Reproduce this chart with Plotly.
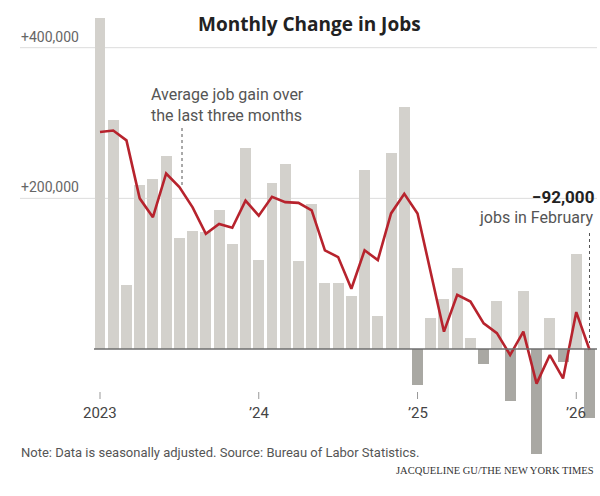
import plotly.graph_objects as go

months = ["2023-01","2023-02","2023-03","2023-04","2023-05","2023-06","2023-07","2023-08","2023-09","2023-10","2023-11","2023-12",
          "2024-01","2024-02","2024-03","2024-04","2024-05","2024-06","2024-07","2024-08","2024-09","2024-10","2024-11","2024-12",
          "2025-01","2025-02","2025-03","2025-04","2025-05","2025-06","2025-07","2025-08","2025-09","2025-10","2025-11","2025-12",
          "2026-01","2026-02"]
job_change = [440000, 304000, 85000, 218000, 226000, 256000, 147000, 156000, 155000, 185000, 140000, 267000,
              118000, 220000, 245000, 117000, 192000, 87000, 88000, 71000, 238000, 44000, 260000, 321000,
              -48000, 41000, 66000, 107000, 14000, -20000, 64000, -69000, 77000, -140000, 41000, -17000,
              126000, -92000]
avg_3mo = [288000, 290000, 277000, 200000, 175000, 233000, 215000, 188000, 153000, 166000, 161000, 197000,
           177000, 202000, 195000, 194000, 184000, 131000, 122000, 80000, 131000, 118000, 180000, 206000,
           180000, 101000, 23000, 72000, 63000, 34000, 21000, -8000, 23000, -46000, -8000, -39000,
           49000, -1000]
tick_months = ["2023-01", "2024-01", "2025-01", "2026-01"]
tick_labels = ["2023", "\u201924", "\u201925", "\u201926"]
grid_values = [200000, 400000]
grid_labels = ["+200,000", "+400,000"]

W, H = 600, 496
x_idx = list(range(len(months)))
px_per_month = 13.23
x0_px = 100.0
xr = [(0 - x0_px) / px_per_month, (W - x0_px) / px_per_month]
zero_px = 349.0
px_per_val = 301.3 / 400000
yr = [-(H - zero_px) / px_per_val, zero_px / px_per_val]

bar_colors = ["#d3d1cc" if v >= 0 else "#a9a8a3" for v in job_change]

fig = go.Figure()
fig.add_trace(go.Bar(x=x_idx, y=job_change, marker=dict(color=bar_colors, line=dict(width=0)),
                     width=0.83, hoverinfo="skip"))
fig.add_trace(go.Scatter(x=x_idx, y=avg_3mo, mode="lines",
                         line=dict(color="#b7232d", width=2.6), hoverinfo="skip"))

shapes = []
annotations = []
# gridlines
for gv, gl in zip(grid_values, grid_labels):
    shapes.append(dict(type="line", xref="paper", yref="y", x0=20 / W, x1=597 / W, y0=gv, y1=gv,
                       line=dict(color="#dcdcdc", width=1), layer="below"))
    annotations.append(dict(xref="paper", yref="y", x=19 / W, y=gv, text=gl, showarrow=False,
                            xanchor="left", yanchor="bottom", yshift=1,
                            font=dict(family="Roboto", size=14, color="#666")))
# zero line
shapes.append(dict(type="line", xref="paper", yref="y", x0=94 / W, x1=597 / W, y0=0, y1=0,
                   line=dict(color="#6e6e6e", width=1.6), layer="above"))
# ticks
for tm, tl in zip(tick_months, tick_labels):
    i = months.index(tm)
    shapes.append(dict(type="line", xref="x", yref="paper", x0=i, x1=i,
                       y0=1 - 399 / H, y1=1 - 392 / H, line=dict(color="#999", width=1)))
    annotations.append(dict(xref="x", yref="paper", x=i, y=1 - 413 / H, text=tl, showarrow=False,
                            xanchor="center", yanchor="middle",
                            font=dict(family="Roboto", size=15, color="#444")))
# dotted leader lines
shapes.append(dict(type="line", xref="paper", yref="paper", x0=182 / W, x1=182 / W,
                   y0=1 - 128 / H, y1=1 - 186 / H, line=dict(color="#555", width=1, dash="dot")))
last = len(months) - 1
shapes.append(dict(type="line", xref="x", yref="paper", x0=last, x1=last,
                   y0=1 - 233 / H, y1=1 - 343 / H, line=dict(color="#555", width=1, dash="dot")))

annotations += [
    dict(xref="paper", yref="paper", x=309 / W, y=1 - 24 / H, text="<b>Monthly Change in Jobs</b>",
         showarrow=False, xanchor="center", yanchor="middle",
         font=dict(family="Open Sans", size=19, color="#222")),
    dict(xref="paper", yref="paper", x=149 / W, y=1 - 105 / H,
         text="Average job gain over<br>the last three months", showarrow=False,
         xanchor="left", yanchor="middle", align="left",
         font=dict(family="Roboto", size=16, color="#555")),
    dict(xref="paper", yref="paper", x=596 / W, y=1 - 197 / H, text="<b>\u221292,000</b>",
         showarrow=False, xanchor="right", yanchor="middle",
         font=dict(family="Roboto", size=17, color="#222")),
    dict(xref="paper", yref="paper", x=596 / W, y=1 - 217 / H, text="jobs in February",
         showarrow=False, xanchor="right", yanchor="middle",
         font=dict(family="Roboto", size=16, color="#555")),
    dict(xref="paper", yref="paper", x=19 / W, y=1 - 452 / H,
         text="Note: Data is seasonally adjusted. Source: Bureau of Labor Statistics.",
         showarrow=False, xanchor="left", yanchor="middle",
         font=dict(family="Roboto", size=13, color="#555")),
    dict(xref="paper", yref="paper", x=596 / W, y=1 - 470 / H,
         text="JACQUELINE GU/THE NEW YORK TIMES",
         showarrow=False, xanchor="right", yanchor="middle",
         font=dict(family="Liberation Serif", size=10.5, color="#333")),
]

fig.update_layout(
    width=W, height=H, margin=dict(l=0, r=0, t=0, b=0),
    paper_bgcolor="white", plot_bgcolor="white", showlegend=False,
    xaxis=dict(range=xr, visible=False, fixedrange=True),
    yaxis=dict(range=yr, visible=False, fixedrange=True),
    shapes=shapes, annotations=annotations, bargap=0,
)
fig.write_html("out.html")
